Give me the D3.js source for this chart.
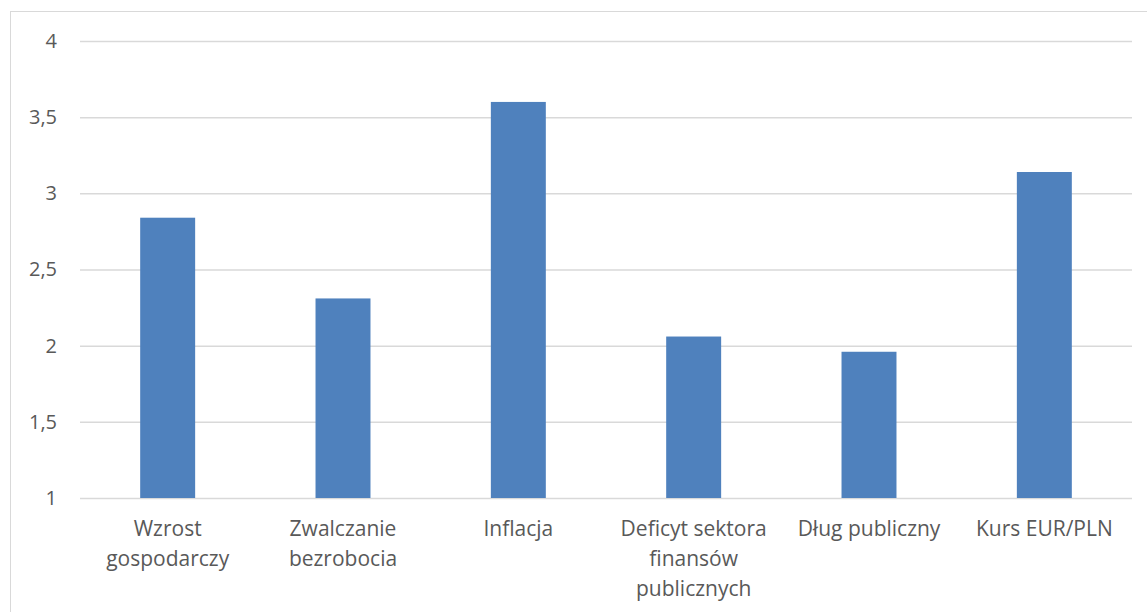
<!DOCTYPE html>
<html>
<head>
<meta charset="utf-8">
<script src="https://cdn.jsdelivr.net/npm/d3@7"></script>
<style>
  html, body { margin: 0; padding: 0; background: #fff; }
  svg { display: block; }
  text { font-family: "Open Sans", "Noto Sans", sans-serif; fill: #595959; }
</style>
</head>
<body>
<svg id="chart" width="1147" height="612"></svg>
<script>
const categories = ["Wzrost gospodarczy", "Zwalczanie bezrobocia", "Inflacja", "Deficyt sektora finansów publicznych", "Dług publiczny", "Kurs EUR/PLN"];
const values = [2.84, 2.31, 3.60, 2.06, 1.96, 3.14];
const yTicks = [1, 1.5, 2, 2.5, 3, 3.5, 4];

const W = 1147, H = 612;
const margin = { left: 80, right: 15, top: 41, bottom: 114 };
const svg = d3.select("#chart");

// outer chart border (only top and left visible in frame)
svg.append("rect")
  .attr("x", 10.5).attr("y", 11.5)
  .attr("width", W + 20).attr("height", H + 20)
  .attr("fill", "#fff").attr("stroke", "#D9D9D9").attr("stroke-width", 1);

const x = d3.scaleBand().domain(categories)
  .range([margin.left, W - margin.right])
  .paddingInner(2.19 / 3.19).paddingOuter(2.19 / 3.19 / 2);
const y = d3.scaleLinear().domain([1, 4]).range([H - margin.bottom, margin.top]);

const locale = d3.formatLocale({ decimal: ",", thousands: " ", grouping: [3], currency: ["", " zł"] });
const fmt = locale.format("~g");

// gridlines
const yAxis = d3.axisLeft(y).tickValues(yTicks).tickFormat(fmt)
  .tickSize(-(W - margin.right - margin.left)).tickPadding(23);
const gy = svg.append("g").attr("transform", `translate(${margin.left},0)`).call(yAxis);
gy.select(".domain").remove();
gy.selectAll(".tick line").attr("stroke", "#D9D9D9").attr("stroke-width", 1.5);
gy.selectAll(".tick text").attr("font-size", 20).attr("fill", "#595959")
  .style("font-family", '"Open Sans", "Noto Sans", sans-serif');

// bars
svg.append("g").selectAll("rect").data(values).join("rect")
  .attr("x", (d, i) => x(categories[i]))
  .attr("width", x.bandwidth())
  .attr("y", d => y(d))
  .attr("height", d => y(1) - y(d))
  .attr("fill", "#4F81BD");

// x axis labels (wrapped)
const xAxis = d3.axisBottom(x).tickSize(0).tickPadding(0);
const gx = svg.append("g").attr("transform", `translate(0,${y(1)})`).call(xAxis);
gx.select(".domain").remove();
const maxW = 166;
gx.selectAll(".tick text").each(function(d) {
  const t = d3.select(this);
  t.text(null).attr("font-size", 21).attr("fill", "#595959")
    .style("font-family", '"Open Sans", "Noto Sans", sans-serif')
    .attr("y", 0).attr("dy", null);
  const words = d.split(" ");
  const lines = [];
  let cur = [];
  const probe = t.append("tspan");
  words.forEach(w => {
    const test = cur.concat([w]).join(" ");
    probe.text(test);
    if (probe.node().getComputedTextLength() > maxW && cur.length) {
      lines.push(cur.join(" "));
      cur = [w];
    } else cur.push(w);
  });
  lines.push(cur.join(" "));
  probe.remove();
  lines.forEach((l, i) => {
    t.append("tspan").attr("x", 0).attr("y", 38 + i * 30).text(l);
  });
});
</script>
</body>
</html>
